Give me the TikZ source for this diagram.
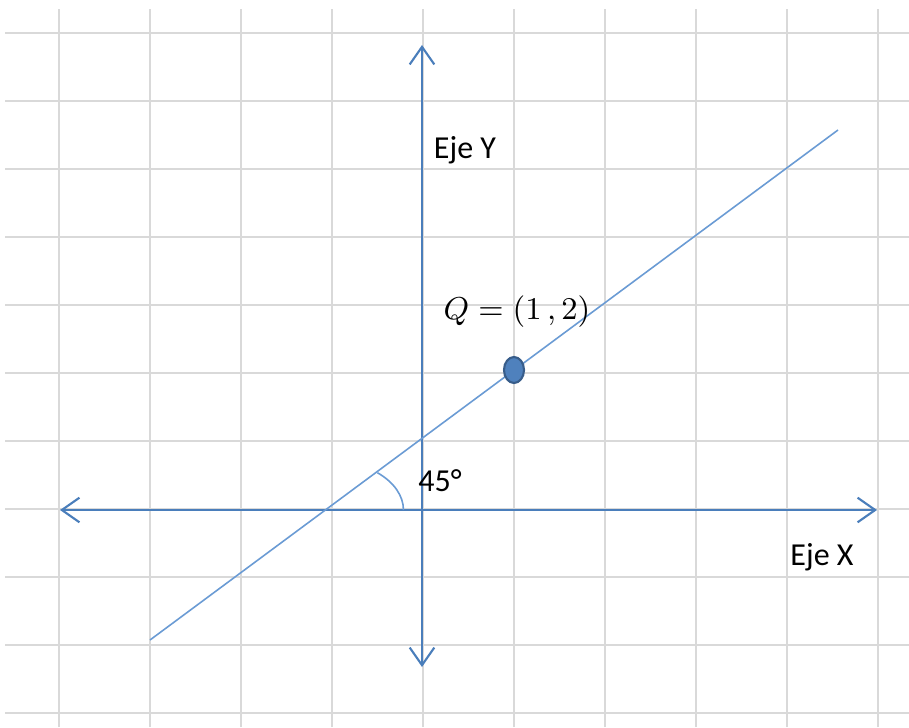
\documentclass[tikz,border=0pt]{standalone}
\usepackage{fontspec}
\setmainfont{Carlito}
\usepackage{xcolor}
\usepackage{tikz}
\usetikzlibrary{arrows.meta,shapes}
\definecolor{gris}{HTML}{D9D9D9}
\definecolor{ejeazul}{HTML}{4A7EBB}
\definecolor{rectaazul}{HTML}{6A9BD4}
\definecolor{puntoazul}{HTML}{4F81BD}
\definecolor{bordeazul}{HTML}{385D8A}
\tikzstyle{cuadro}=[draw=gris, line width=0.55pt]
\tikzstyle{eje}=[draw=ejeazul, line width=0.6pt,% open tips at both ends
{Straight Barb[length=5pt,width=7pt]}-{Straight Barb[length=5pt,width=7pt]}]
\tikzstyle{recta}=[draw=rectaazul, line width=0.45pt]
\tikzstyle{punto}=[ellipse, draw=bordeazul, fill=puntoazul, line width=0.6pt,% the point Q
minimum width=2mm, minimum height=2.6mm, inner sep=0pt]
\tikzstyle{texto}=[font=\fontsize{9.1}{11}\selectfont, inner sep=0pt]

\begin{document}
\begin{tikzpicture}[x=0.01cm, y=0.01cm]
\useasboundingbox (0,0) rectangle (909,727);
\fill[white] (0,0) rectangle (909,727);
\draw[cuadro] (59,0) -- (59,718);
\draw[cuadro] (150,0) -- (150,718);
\draw[cuadro] (241,0) -- (241,718);
\draw[cuadro] (332,0) -- (332,718);
\draw[cuadro] (423,0) -- (423,718);
\draw[cuadro] (514,0) -- (514,718);
\draw[cuadro] (605,0) -- (605,718);
\draw[cuadro] (696,0) -- (696,718);
\draw[cuadro] (787,0) -- (787,718);
\draw[cuadro] (878,0) -- (878,718);
\draw[cuadro] (5,694) -- (909,694);
\draw[cuadro] (5,626) -- (909,626);
\draw[cuadro] (5,558) -- (909,558);
\draw[cuadro] (5,490) -- (909,490);
\draw[cuadro] (5,422) -- (909,422);
\draw[cuadro] (5,354) -- (909,354);
\draw[cuadro] (5,286) -- (909,286);
\draw[cuadro] (5,218) -- (909,218);
\draw[cuadro] (5,150) -- (909,150);
\draw[cuadro] (5,82) -- (909,82);
\draw[cuadro] (5,14) -- (909,14);
\coordinate (ytop) at (422,682);
\coordinate (ybot) at (422,60);
\coordinate (xizq) at (60,217);
\coordinate (xder) at (877,217);
\coordinate (r1) at (150,87);
\coordinate (r2) at (838,597);
\coordinate (O) at (325.4,217);
\draw[eje] (ybot) -- (ytop);
\draw[eje] (xizq) -- (xder);
\draw[recta] (r1) -- (r2);
\draw[recta] (O) ++(0.78cm,0) arc[start angle=0, end angle=48.2, x radius=0.78cm, y radius=0.5cm];
\node[punto] (Q) at (514,357) {};
\node[texto] (ejey) at (465,577) {Eje Y};
\node[texto] (ejex) at (822,170) {Eje X};
\node[texto] (ang) at (440,246) {45°};
\node[texto] (lblQ) at (517,415) {$Q=(1\,,2)$};
\end{tikzpicture}
\end{document}
